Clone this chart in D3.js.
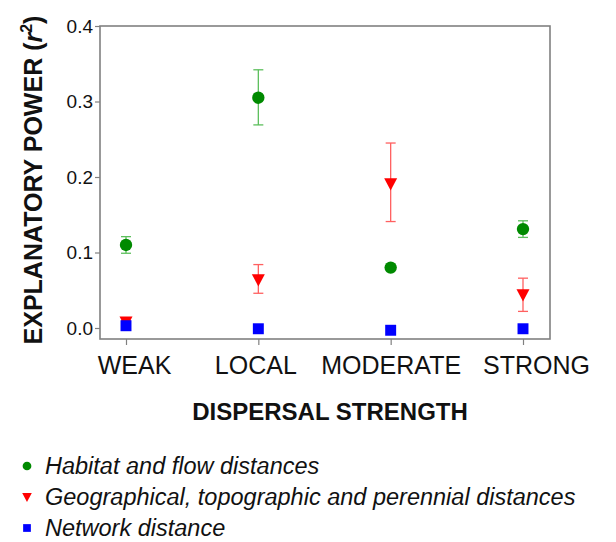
<!DOCTYPE html>
<html>
<head>
<meta charset="UTF-8"/>
<script src="https://d3js.org/d3.v7.min.js"></script>
<style>
body { margin: 0; background: #fff; }
text { font-family: "Liberation Sans", Arial, sans-serif; }
</style>
</head>
<body>
<svg id="big" width="616" height="542"></svg>
<script>
'use strict';

var categories = ['WEAK', 'LOCAL', 'MODERATE', 'STRONG'];
var yTicks = [0.0, 0.1, 0.2, 0.3, 0.4];

// habitat and flow distances
var habitat = [0.110, 0.305, 0.080, 0.131];
var habitatLo = [0.099, 0.269, 0.078, 0.120];
var habitatHi = [0.121, 0.342, 0.082, 0.142];

// geographical, topographic and perennial distances
var geo = [0.008, 0.064, 0.191, 0.044];
var geoLo = [0.007, 0.046, 0.141, 0.022];
var geoHi = [0.010, 0.084, 0.245, 0.066];

// network distance
var network = [0.003, -0.001, -0.003, -0.001];

var series = [
	{name: 'Habitat and flow distances', sym: 'circle', fill: '#008a00', bar: '#5cbf5c', v: habitat, lo: habitatLo, hi: habitatHi},
	{name: 'Geographical, topographic and perennial distances', sym: 'tri', fill: '#ff0000', bar: '#ff6060', v: geo, lo: geoLo, hi: geoHi},
	{name: 'Network distance', sym: 'square', fill: '#0000ff', bar: '#0000ff', v: network, lo: null, hi: null}
];

var svg = d3.select('#big');
var fLeft = 100, fRight = 550, fTop = 26, fBottom = 339;

var sx = d3.scalePoint().domain(categories).range([126, 523]);
var sy = d3.scaleLinear().domain([0, 0.4]).range([328, 26]);

// frame
svg.append('rect')
	.attr('x', fLeft).attr('y', fTop)
	.attr('width', fRight - fLeft).attr('height', fBottom - fTop)
	.attr('fill', 'none').attr('stroke', '#808080').attr('stroke-width', 1.6);

// y axis
var yAxis = d3.axisLeft(sy).tickValues(yTicks).tickFormat(d3.format('.1f')).tickSize(5).tickPadding(2);
var gy = svg.append('g').attr('transform', 'translate(' + fLeft + ',0)').call(yAxis);
gy.select('.domain').remove();
gy.selectAll('line').attr('stroke', '#808080').attr('stroke-width', 1.2);
gy.selectAll('text').attr('font-size', 19).attr('fill', '#111').style('font-family', '"Liberation Sans", Arial, sans-serif');

// x axis
var labelNudge = [8, -3, 0, 13];
var xAxis = d3.axisBottom(sx).tickSize(6).tickPadding(11);
var gx = svg.append('g').attr('transform', 'translate(0,' + fBottom + ')').call(xAxis);
gx.select('.domain').remove();
gx.selectAll('line').attr('stroke', '#808080').attr('stroke-width', 1.2);
gx.selectAll('text').attr('font-size', 25).attr('fill', '#111')
	.attr('dx', function(d, i){ return labelNudge[i]; })
	.style('font-family', '"Liberation Sans", Arial, sans-serif');

function symbolPath(sym, size) {
	if (sym === 'circle') return d3.symbol().type(d3.symbolCircle).size(size)();
	if (sym === 'square') return d3.symbol().type(d3.symbolSquare).size(size)();
	var s = Math.sqrt(size) * 0.62;
	return 'M' + (-s) + ',' + (-s * 0.85) + 'L' + s + ',' + (-s * 0.85) + 'L0,' + (s * 1.05) + 'Z';
}
var sizes = {circle: 120, tri: 110, square: 120};

series.forEach(function(s) {
	var g = svg.append('g');
	if (s.lo) {
		var bars = g.selectAll('.eb').data(categories).enter().append('g')
			.attr('stroke', s.bar).attr('stroke-width', 1.3);
		bars.append('line')
			.attr('x1', function(d){ return sx(d); }).attr('x2', function(d){ return sx(d); })
			.attr('y1', function(d, i){ return sy(s.lo[i]); }).attr('y2', function(d, i){ return sy(s.hi[i]); });
		bars.append('line')
			.attr('x1', function(d){ return sx(d) - 5; }).attr('x2', function(d){ return sx(d) + 5; })
			.attr('y1', function(d, i){ return sy(s.lo[i]); }).attr('y2', function(d, i){ return sy(s.lo[i]); });
		bars.append('line')
			.attr('x1', function(d){ return sx(d) - 5; }).attr('x2', function(d){ return sx(d) + 5; })
			.attr('y1', function(d, i){ return sy(s.hi[i]); }).attr('y2', function(d, i){ return sy(s.hi[i]); });
	}
	g.selectAll('.pt').data(categories).enter().append('path')
		.attr('transform', function(d, i){ return 'translate(' + sx(d) + ',' + sy(s.v[i]) + ')'; })
		.attr('d', symbolPath(s.sym, sizes[s.sym]))
		.attr('fill', s.fill);
});

// axis titles
var yt = svg.append('text')
	.attr('transform', 'translate(42,180) rotate(-90)')
	.attr('text-anchor', 'middle')
	.attr('font-size', 25).attr('font-weight', 'bold').attr('fill', '#111');
yt.append('tspan').text('EXPLANATORY POWER (');
yt.append('tspan').attr('font-style', 'italic').text('r');
yt.append('tspan').attr('font-size', 16).attr('dy', -10).text('2');
yt.append('tspan').attr('dy', 10).text(')');

svg.append('text')
	.attr('x', 330).attr('y', 420)
	.attr('text-anchor', 'middle')
	.attr('font-size', 24).attr('font-weight', 'bold').attr('fill', '#111')
	.text('DISPERSAL STRENGTH');

// legend
var legend = svg.selectAll('.leg').data(series).enter().append('g')
	.attr('transform', function(d, i){ return 'translate(0,' + (466 + i * 31) + ')'; });
legend.append('path')
	.attr('transform', 'translate(27,0)')
	.attr('d', function(d){ return symbolPath(d.sym, 60); })
	.attr('fill', function(d){ return d.fill; });
legend.append('text')
	.attr('x', 45).attr('y', 8)
	.attr('font-size', 23.5).attr('font-style', 'italic').attr('fill', '#111')
	.text(function(d){ return d.name; });
</script>
</body>
</html>
